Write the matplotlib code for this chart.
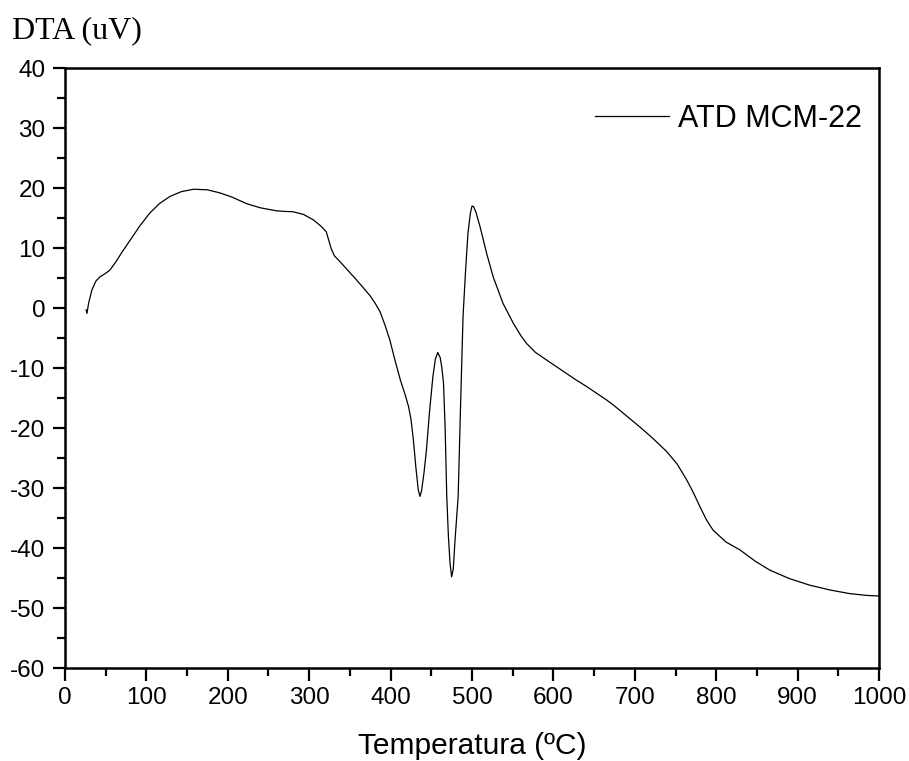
import matplotlib
matplotlib.use('Agg')
import matplotlib.pyplot as plt
from matplotlib.ticker import MultipleLocator

# temperatura (ºC) e sinal DTA (uV)
temperatura = [
    26, 27, 29, 33, 38, 43, 50, 55, 62, 70, 80, 92, 104, 116, 129, 143, 158,
    175, 190, 205, 223, 240, 260, 270, 280, 293, 305, 314, 321, 324, 327,
    331, 338, 348, 358, 367, 375, 381, 387, 393, 399, 405, 412, 418, 422, 425,
    428, 431, 434, 436, 438, 441, 444, 448, 452, 455, 458, 461, 463, 465, 467,
    469, 471, 473, 475, 477, 479, 483, 486, 489, 492, 495, 498, 500, 502, 505,
    510, 518, 526, 538, 551, 560, 567, 578, 592, 604, 616, 628, 641, 653, 665,
    674, 690, 706, 722, 739, 752, 764, 772, 780, 788, 796, 812, 829, 848, 866,
    890, 915, 940, 964, 985, 1000,
]
dta = [
    -0.3, -0.9, 0.8, 3.0, 4.5, 5.2, 5.8, 6.3, 7.6, 9.3, 11.3, 13.7, 15.8, 17.4,
    18.6, 19.4, 19.8, 19.7, 19.2, 18.5, 17.4, 16.7, 16.2, 16.1, 16.05, 15.6,
    14.7, 13.7, 12.7, 11.3, 9.9, 8.7, 7.7, 6.2, 4.7, 3.3, 2.0, 0.8, -0.6,
    -2.8, -5.3, -8.5, -12.0, -14.5, -16.4, -18.5, -22.0, -26.5, -30.3, -31.4,
    -30.5, -27.5, -23.7, -17.0, -11.4, -8.5, -7.4, -8.3, -10.0, -12.5, -20.0,
    -31.4, -38.0, -42.5, -44.8, -43.5, -39.0, -31.4, -16.0, -1.4, 6.0, 12.4,
    15.8, 17.0, 16.9, 15.9, 13.5, 9.1, 5.2, 0.8, -2.6, -4.6, -5.9, -7.4, -8.7,
    -9.8, -10.9, -12.0, -13.1, -14.2, -15.3, -16.2, -18.0, -19.8, -21.7,
    -23.9, -26.0, -28.7, -30.8, -33.1, -35.3, -37.0, -39.0, -40.3, -42.2,
    -43.7, -45.1, -46.2, -47.0, -47.6, -47.9, -48.0,
]

plt.rcParams['font.family'] = ['Liberation Sans', 'DejaVu Sans']
plt.rcParams['axes.unicode_minus'] = False

fig = plt.figure(figsize=(9.09, 7.61), dpi=100)
ax = fig.add_axes([0.0715, 0.1222, 0.8955, 0.7884])

ax.plot(temperatura, dta, color='black', linewidth=0.9, label='ATD MCM-22')

ax.set_xlim(0, 1000)
ax.set_ylim(-60, 40)
ax.xaxis.set_major_locator(MultipleLocator(100))
ax.xaxis.set_minor_locator(MultipleLocator(50))
ax.yaxis.set_major_locator(MultipleLocator(10))
ax.yaxis.set_minor_locator(MultipleLocator(5))

for s in ax.spines.values():
    s.set_linewidth(1.8)
ax.tick_params(which='major', direction='out', length=9, width=1.6,
               labelsize=17.5, pad=5)
ax.tick_params(which='minor', direction='out', length=5.5, width=1.6)

ax.set_xlabel('Temperatura (ºC)', fontsize=21.5, labelpad=16)
fig.text(0.013, 0.950, 'DTA (uV)', fontsize=23, family='Liberation Serif',
         ha='left', va='baseline')

ax.legend(loc='center right', bbox_to_anchor=(0.948, 0.8436),
          bbox_transform=fig.transFigure, frameon=False, fontsize=22,
          handlelength=2.4, handletextpad=0.3, borderpad=0, borderaxespad=0)

fig.savefig('out.png', dpi=100)
